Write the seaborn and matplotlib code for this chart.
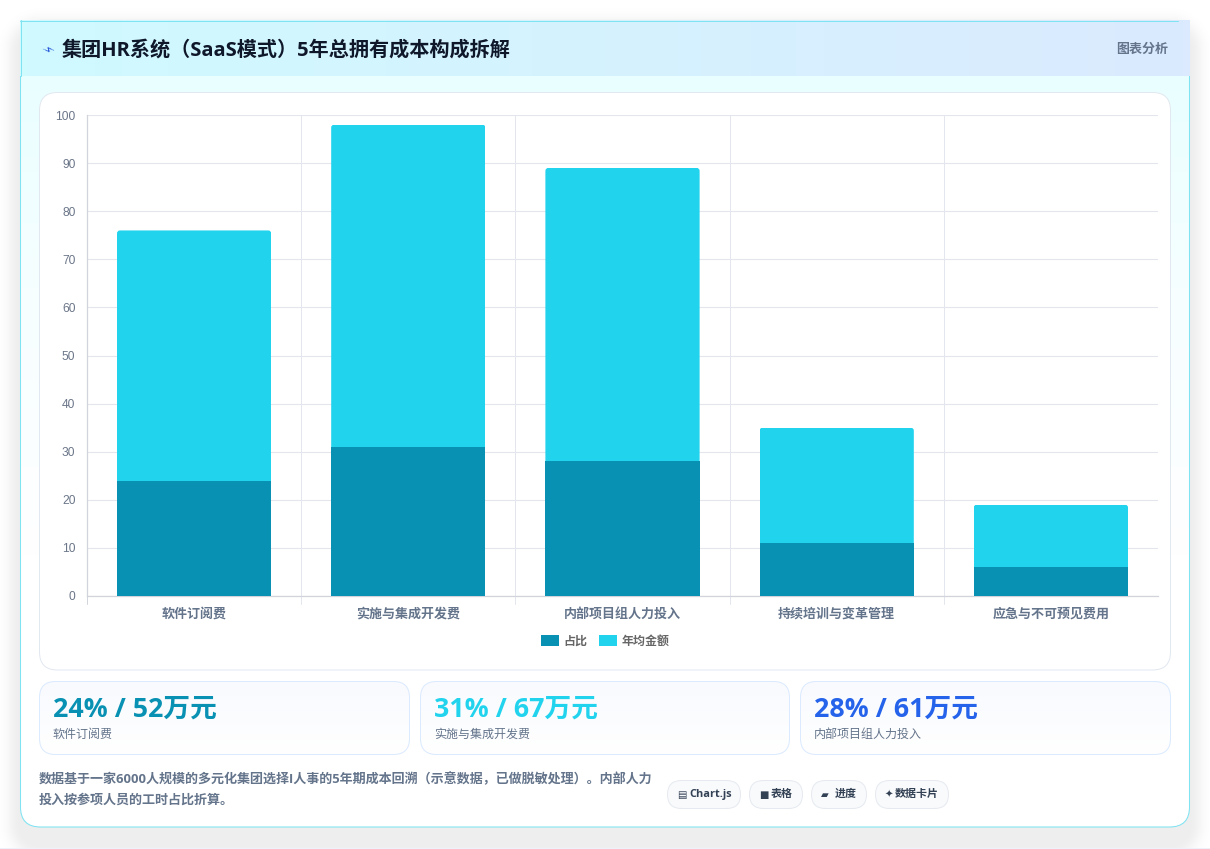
import numpy as np
import pandas as pd
import matplotlib
matplotlib.use("Agg")
import matplotlib.pyplot as plt
import seaborn as sns
from matplotlib.patches import FancyBboxPatch, Rectangle
from matplotlib.colors import LinearSegmentedColormap

# Cost breakdown data
categories = ["软件订阅费", "实施与集成开发费", "内部项目组人力投入", "持续培训与变革管理", "应急与不可预见费用"]
share_pct = [24, 31, 28, 11, 6]
annual_wan = [52, 67, 61, 24, 13]
series_names = ["占比", "年均金额"]
y_ticks = list(range(0, 101, 10))

title_text = "集团HR系统（SaaS模式）5年总拥有成本构成拆解"
header_tag = "图表分析"
card_values = ["24% / 52万元", "31% / 67万元", "28% / 61万元"]
card_labels = categories[:3]
note_lines = ["数据基于一家6000人规模的多元化集团选择I人事的5年期成本回溯（示意数据，已做脱敏处理）。内部人力",
              "投入按参项人员的工时占比折算。"]
chip_labels = ["Chart.js", "表格", "进度", "数据卡片"]
chip_icons = ["▤", "■", "▰", "✦"]

W, H = 1210, 849
PT = 72 / 100  # one pixel in points at dpi 100
CJK = ["Noto Sans CJK SC", "DejaVu Sans"]
LATIN_CJK = ["Open Sans", "Noto Sans CJK SC", "DejaVu Sans"]

CYAN_DARK = "#0891b2"
CYAN = "#22d3ee"
BLUE = "#2563eb"
SLATE = "#64748b"
GRID = "#e3e6ec"
AXIS_LINE = "#d1d5db"
EDGE = "#7fe3f1"

sns.set_theme(style="white")
plt.rcParams["font.family"] = CJK

fig = plt.figure(figsize=(W / 100, H / 100), dpi=100, facecolor="white")

# Page layer in pixel coordinates
bg = fig.add_axes([0, 0, 1, 1], zorder=0)
bg.set_xlim(0, W)
bg.set_ylim(H, 0)
bg.axis("off")


def rounded(x0, y0, x1, y1, r, **kw):
    return FancyBboxPatch((x0 + r, y0 + r), x1 - x0 - 2 * r, y1 - y0 - 2 * r,
                          boxstyle=f"round,pad={r},rounding_size={r}",
                          mutation_aspect=1, **kw)


def gradient(extent, stops, vertical, clip=None, z=1):
    cmap = LinearSegmentedColormap.from_list("g", stops)
    ramp = np.linspace(0, 1, 256)
    arr = ramp[:, None] if vertical else ramp[None, :]
    im = bg.imshow(arr, extent=extent, cmap=cmap, vmin=0, vmax=1,
                   aspect="auto", zorder=z, interpolation="bilinear")
    if clip is not None:
        im.set_clip_path(clip)
    bg.set_xlim(0, W)
    bg.set_ylim(H, 0)
    return im


# Soft drop shadow under the main card, from a rounded-rectangle distance field
yy, xx = np.mgrid[0:H, 0:W] + 0.5
radius = 20
cx, cy = (20 + 1190) / 2, (30 + 845) / 2
qx = np.maximum(np.abs(xx - cx) - ((1190 - 20) / 2 - radius), 0)
qy = np.maximum(np.abs(yy - cy) - ((845 - 30) / 2 - radius), 0)
dist = np.maximum(np.hypot(qx, qy) - radius, 0)
shadow = np.zeros((H, W, 4))
shadow[..., 3] = 0.068 * np.exp(-(dist / 13) ** 2)
bg.imshow(shadow, extent=(0, W, H, 0), aspect="auto", zorder=0, interpolation="bilinear")
bg.add_patch(Rectangle((0, 848), W, 1, fc="#eef2f8", ec="none", zorder=0.5))

# Main card
card_clip = rounded(20.5, 20.5, 1189.5, 827, 20, fc="none", ec="none", zorder=1)
bg.add_patch(card_clip)
gradient((20, 1190, 827, 20), ["#e6feff", "#f6feff", "#ffffff", "#ffffff"], True, card_clip, 1)
bg.add_patch(rounded(20.5, 20.5, 1189.5, 827, 20, fc="none", ec=EDGE, lw=0.75, zorder=1.6))

# Header band
gradient((20, 1190, 76, 20), ["#cffafe", "#dbeafe"], False, None, 2)
bg.plot([20, 1178], [20.5, 20.5], color=EDGE, lw=0.72, zorder=2.2)
bg.plot([20.5, 20.5], [20, 76], color=EDGE, lw=0.72, zorder=2.2)
bg.text(47, 50.5, "⚡", family="DejaVu Sans", fontsize=9.5, color="#1d4ed8", rotation=-62,
        ha="center", va="center", zorder=3)
bg.text(62, 51, title_text, family=LATIN_CJK, fontsize=20.1 * PT, weight="bold",
        color="#0f172a", va="center", ha="left", zorder=3)
bg.text(1168, 48.5, header_tag, fontsize=13 * PT, weight="bold", color=SLATE,
        va="center", ha="right", zorder=3)

# Chart panel
bg.add_patch(rounded(39.5, 92.5, 1170.5, 670, 18, fc="white", ec="#e2e8f0", lw=0.72, zorder=3))

# Summary cards
card_boxes = [(39.5, 409.5), (420.5, 789.5), (800.5, 1170.5)]
card_colors = [CYAN_DARK, CYAN, BLUE]
for (x0, x1), value, label, colour in zip(card_boxes, card_values, card_labels, card_colors):
    clip = rounded(x0, 681.5, x1, 754.5, 16, fc="none", ec="none", zorder=3)
    bg.add_patch(clip)
    gradient((x0, x1, 755, 681), ["#f8fafe", "#ffffff"], True, clip, 3)
    bg.add_patch(rounded(x0, 681.5, x1, 754.5, 16, fc="none", ec="#dbeafe", lw=0.72, zorder=3.2))
    bg.text(x0 + 13.5, 710, value, family=LATIN_CJK, fontsize=26.7 * PT, weight="bold",
            color=colour, va="center", ha="left", zorder=4)
    bg.text(x0 + 13.5, 734.5, label, fontsize=12 * PT, color=SLATE, va="center", ha="left", zorder=4)

# Footnote
for line, y in zip(note_lines, (779, 800)):
    bg.text(39, y, line, family=LATIN_CJK, fontsize=13.05 * PT, weight="bold", color=SLATE,
            va="center", ha="left", zorder=4)

# Feature chips
chip_boxes = [(667.5, 740.5), (749.5, 802.5), (811.5, 866.5), (875.5, 948.5)]
chip_text_x = [689, 771, 835, 895]
for (x0, x1), text_x, icon, label in zip(chip_boxes, chip_text_x, chip_icons, chip_labels):
    bg.add_patch(rounded(x0, 780.5, x1, 808.5, 14, fc="#f8fafc", ec="#e6eaf0", lw=0.72, zorder=4))
    bg.text(x0 + 9.5, 795, icon, family="DejaVu Sans", fontsize=10 * PT, color="#334155",
            va="center", ha="left", zorder=5)
    bg.text(text_x, 794.5, label, family=LATIN_CJK, fontsize=11 * PT, weight="bold", color="#334155",
            va="center", ha="left", zorder=5)

# Stacked bar chart
ax_left, ax_right, ax_top, ax_bottom = 87, 1158, 115, 596
ax = fig.add_axes([ax_left / W, 1 - ax_bottom / H, (ax_right - ax_left) / W, (ax_bottom - ax_top) / H],
                  zorder=2, facecolor="none")

costs = pd.DataFrame({"category": categories, "share": share_pct, "annual": annual_wan})
sns.barplot(data=costs, x="category", y="share", color=CYAN_DARK, saturation=1, width=0.72,
            label=series_names[0], ax=ax, zorder=3, linewidth=0)
sns.barplot(data=costs, x="category", y="annual", bottom=costs["share"], color=CYAN, saturation=1,
            width=0.72, label=series_names[1], ax=ax, zorder=3, linewidth=0)

ax.set_xlim(-0.5, len(categories) - 0.5)
ax.set_ylim(0, 100)
ax.set_xlabel("")
ax.set_ylabel("")
ax.set_yticks(y_ticks)
ax.set_xticks(range(len(categories)), categories)

ax.grid(False)
ax.set_axisbelow(True)
ax.hlines(y_ticks, -0.5, len(categories) - 0.5, color=GRID, lw=0.8, zorder=1)
boundaries = np.arange(len(categories)) - 0.5
ax.vlines(boundaries[1:], 0, 100, color=GRID, lw=0.7, zorder=1)

# Boundary ticks below the baseline, left ticks beside the value axis
ax.tick_params(axis="x", length=0, pad=18 * PT, labelsize=13 * PT, labelcolor=SLATE)
ax.tick_params(axis="y", length=5.4, width=0.8, color=GRID, pad=2.9, labelsize=12 * PT, labelcolor="#6b7689")
for lab in ax.get_yticklabels():
    lab.set_family(["Liberation Sans"])
for lab in ax.get_xticklabels():
    lab.set_fontweight("bold")
    lab.set_verticalalignment("center")
px_per_unit = (ax_bottom - ax_top) / 100
for b in boundaries:
    ax.plot([b, b], [0, -8 / px_per_unit], color=GRID if b > -0.5 else AXIS_LINE, lw=0.7,
            clip_on=False, zorder=1)

for side in ("top", "right"):
    ax.spines[side].set_visible(False)
for side in ("left", "bottom"):
    ax.spines[side].set_color(AXIS_LINE)
    ax.spines[side].set_linewidth(0.9)
    ax.spines[side].set_zorder(2)

ax.legend(loc="center", bbox_to_anchor=((605 - ax_left) / (ax_right - ax_left), (ax_bottom - 641) / (ax_bottom - ax_top)),
          ncol=2, frameon=False, handlelength=1.5, handleheight=1.0, handletextpad=0.4,
          columnspacing=0.95, prop={"family": CJK, "size": 12 * PT, "weight": "bold"},
          labelcolor="#666666")

# Round the upper corners of the top segment, keeping the geometry the bars were given
px_per_cat = (ax_right - ax_left) / len(categories)
corner_px = 3
for bar in ax.patches[len(categories):]:
    clip = FancyBboxPatch((bar.get_x(), bar.get_y() - 5), bar.get_width(), bar.get_height() + 5,
                          boxstyle=f"round,pad=0,rounding_size={corner_px / px_per_cat}",
                          mutation_aspect=px_per_cat / px_per_unit,
                          transform=ax.transData, fc="none", ec="none")
    bar.set_clip_path(clip)

fig.savefig("out.png", dpi=100)
